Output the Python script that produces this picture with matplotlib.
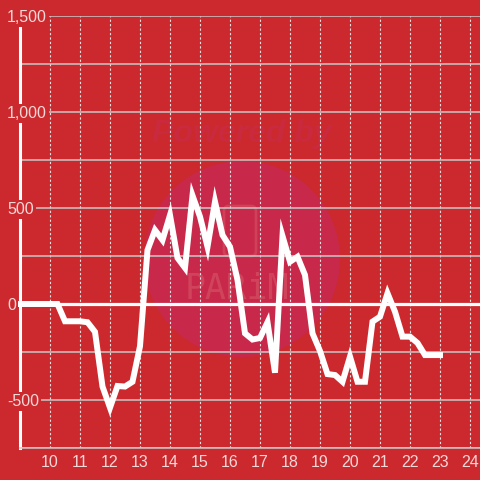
import matplotlib
matplotlib.use("Agg")
import matplotlib.pyplot as plt
from matplotlib.patches import Circle, FancyBboxPatch
from matplotlib.transforms import IdentityTransform
from matplotlib.ticker import MultipleLocator

hours = [9.0, 9.25, 9.5, 9.75, 10.0, 10.25, 10.5, 10.75, 11.0, 11.25, 11.5, 11.75,
         12.0, 12.25, 12.5, 12.75, 13.0, 13.25, 13.5, 13.75, 14.0, 14.25, 14.5, 14.75,
         15.0, 15.25, 15.5, 15.75, 16.0, 16.25, 16.5, 16.75, 17.0, 17.25, 17.5, 17.75,
         18.0, 18.25, 18.5, 18.75, 19.0, 19.25, 19.5, 19.75, 20.0, 20.25, 20.5, 20.75,
         21.0, 21.25, 21.5, 21.75, 22.0, 22.25, 22.5, 22.75, 23.0]
values = [0, 0, 0, 0, 0, 0, -90, -90, -90, -95, -145, -430,
          -540, -427, -430, -405, -220, 281, 385, 333, 463, 240, 188, 565,
          455, 298, 533, 359, 298, 125, -153, -185, -177, -95, -358, 354,
          220, 246, 151, -153, -245, -365, -370, -405, -274, -405, -405, -92,
          -66, 56, -40, -170, -170, -203, -266, -266, -266]

x_ticks = list(range(10, 25))
y_ticks = [-500, 0, 500, 1000, 1500]
y_tick_labels = ["-500", "0", "500", "1,000", "1,500"]

BG = "#cc292e"
TXT = "#f3d8d8"
GRID = "#c9c9c9"

plt.rcParams['font.family'] = ['Liberation Sans', 'DejaVu Sans']

fig = plt.figure(figsize=(4.8, 4.8), dpi=100, facecolor=BG)
ax = fig.add_axes([20/480, 1 - 448/480, 460/480, 432/480], facecolor=BG)
ax.set_xlim(9, 9 + 460/30)
ax.set_ylim(-750, 1500)

# watermark (pixel coordinates, behind everything)
ident = IdentityTransform()
circ = Circle((242, 480 - 259), 98, transform=ident, facecolor="#c8284a",
              edgecolor="none", zorder=0.2)
ax.add_patch(circ)
ax.text(242/480, 1 - 134/480, "Powered by", transform=fig.transFigure,
        ha="center", va="center", fontsize=23, fontweight="bold", style="italic",
        color="#c92a3e", zorder=0.3)
ax.text(237/480, 1 - 289/480, "PARiM", transform=fig.transFigure,
        ha="center", va="center", fontsize=25, color="#d9606c", alpha=0.5,
        zorder=0.3, family="DejaVu Sans Mono")
box = FancyBboxPatch((224, 480 - 256), 32, 50, boxstyle="round,pad=0,rounding_size=5",
                     transform=ident, facecolor="none", edgecolor="#d9606c",
                     alpha=0.45, linewidth=2, zorder=0.3)
ax.add_patch(box)

# grids
ax.yaxis.set_minor_locator(MultipleLocator(250))
ax.set_yticks(y_ticks)
ax.set_xticks(x_ticks)
ax.grid(axis="y", which="both", color=GRID, linewidth=1.1, linestyle="-", zorder=1)
ax.grid(axis="x", which="major", color="#e3e3e3", linewidth=0.8, linestyle=(0, (2, 2)), zorder=1)

ax.tick_params(axis="y", which="both", length=0, labelleft=False)
ax.tick_params(axis="x", which="both", length=0, pad=5, labelsize=11.5, labelcolor=TXT)

ytr = ax.get_yaxis_transform()
for yv, lab in zip(y_ticks, y_tick_labels):
    ax.text((7 - 20) / 460, yv, lab, transform=ytr, ha="left", va="center_baseline",
            fontsize=11.5, color=TXT, clip_on=False, zorder=6,
            bbox=dict(facecolor=BG, edgecolor="none", pad=1.5))

for s in ["top", "right"]:
    ax.spines[s].set_visible(False)
ax.spines["bottom"].set_color(GRID)
ax.spines["bottom"].set_linewidth(1.1)
ax.spines["left"].set_color("white")
ax.spines["left"].set_linewidth(2.2)
ax.spines["left"].set_bounds(-750, 1458)

ax.axhline(0, color="white", linewidth=2.3, zorder=3)
ax.plot(hours, values, color="white", linewidth=4.3, solid_joinstyle="miter",
        solid_capstyle="projecting", zorder=4, clip_on=False)

fig.savefig("out.png", dpi=100, facecolor=BG)
